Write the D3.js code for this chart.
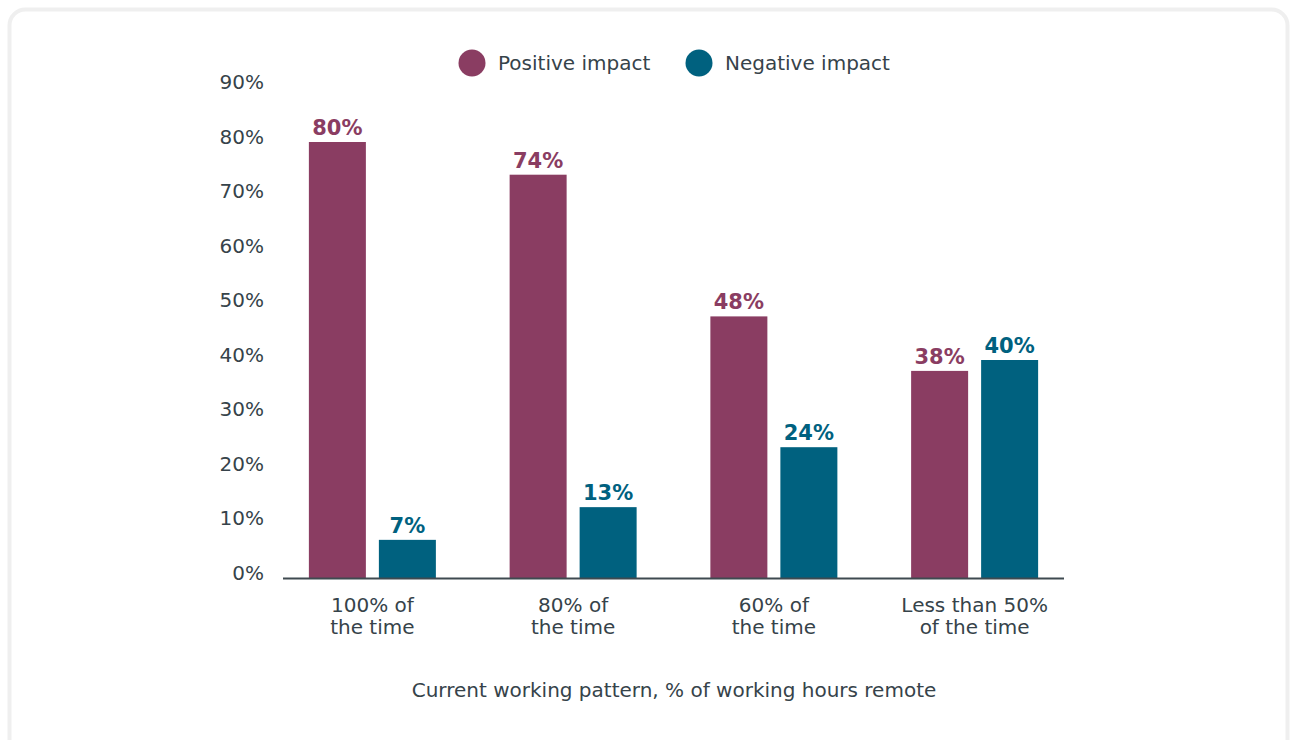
<!DOCTYPE html>
<html>
<head>
<meta charset="utf-8">
<script src="https://cdn.jsdelivr.net/npm/d3@7"></script>
<style>
    body { margin: 0; background: #ffffff; }
    svg { display: block; font-family: "DejaVu Sans", sans-serif; }
    .tick text { fill: #36434a; font-size: 20px; font-family: "DejaVu Sans", sans-serif; }
    .catLabel { fill: #36434a; font-size: 20px; }
    .axisTitle { fill: #36434a; font-size: 20px; }
    .legendText { fill: #36434a; font-size: 20px; }
    .valueLabel { font-size: 21px; font-weight: 700; }
</style>
</head>
<body>
<script>
(function(){

    //chart data
    var categories = [["100% of", "the time"], ["80% of", "the time"], ["60% of", "the time"], ["Less than 50%", "of the time"]];
    var seriesNames = ["Positive impact", "Negative impact"];
    var positiveValues = [80, 74, 48, 38];
    var negativeValues = [7, 13, 24, 40];
    var yTicks = [0, 10, 20, 30, 40, 50, 60, 70, 80, 90];
    var axisTitle = "Current working pattern, % of working hours remote";

    var colors = ["#8a3d62", "#00617f"];

    var width = 1290,
        height = 740;

    var svg = d3.select("body")
        .append("svg")
        .attr("width", width)
        .attr("height", height);

    //card frame
    svg.append("rect")
        .attr("x", 9.5)
        .attr("y", 9.5)
        .attr("width", 1278)
        .attr("height", 760)
        .attr("rx", 16)
        .attr("fill", "#ffffff")
        .attr("stroke", "#efefef")
        .attr("stroke-width", 4);

    //build rows for the grouped bars
    var rows = categories.map(function(c, i){
        return {key: i, label: c, values: [positiveValues[i], negativeValues[i]]};
    });

    var x0 = d3.scaleBand()
        .domain(d3.range(categories.length))
        .range([272, 1075]);

    var x1 = d3.scaleBand()
        .domain([0, 1])
        .range([x0.bandwidth() / 2 - 63.5, x0.bandwidth() / 2 + 63.5])
        .paddingInner(13 / 70);

    var y = d3.scaleLinear()
        .domain([0, 90])
        .range([578, 87.5]);

    //y axis, labels only
    var yAxis = svg.append("g")
        .attr("transform", "translate(264,0)")
        .call(d3.axisLeft(y).tickValues(yTicks).tickSize(0).tickPadding(0)
            .tickFormat(function(d){ return d + "%"; }));
    yAxis.select(".domain").remove();
    yAxis.selectAll(".tick text")
        .attr("transform", "translate(0,-5)");

    //bars
    var groups = svg.selectAll(".group")
        .data(rows)
        .enter()
        .append("g")
        .attr("class", "group")
        .attr("transform", function(d){ return "translate(" + x0(d.key) + ",0)"; });

    groups.selectAll("rect")
        .data(function(d){ return d.values.map(function(v, j){ return {s: j, v: v}; }); })
        .enter()
        .append("rect")
        .attr("x", function(d){ return x1(d.s); })
        .attr("width", x1.bandwidth())
        .attr("y", function(d){ return y(d.v); })
        .attr("height", function(d){ return y(0) - y(d.v); })
        .attr("fill", function(d){ return colors[d.s]; });

    groups.selectAll(".valueLabel")
        .data(function(d){ return d.values.map(function(v, j){ return {s: j, v: v}; }); })
        .enter()
        .append("text")
        .attr("class", "valueLabel")
        .attr("text-anchor", "middle")
        .attr("x", function(d){ return x1(d.s) + x1.bandwidth() / 2; })
        .attr("y", function(d){ return y(d.v) - 7; })
        .attr("fill", function(d){ return colors[d.s]; })
        .text(function(d){ return d.v + "%"; });

    //baseline
    svg.append("line")
        .attr("x1", 283)
        .attr("x2", 1064)
        .attr("y1", y(0) + 0.5)
        .attr("y2", y(0) + 0.5)
        .attr("stroke", "#3f4a50")
        .attr("stroke-width", 2);

    //category labels, one text per line
    groups.selectAll(".catLabel")
        .data(function(d){ return d.label; })
        .enter()
        .append("text")
        .attr("class", "catLabel")
        .attr("text-anchor", "middle")
        .attr("x", x0.bandwidth() / 2)
        .attr("y", function(d, i){ return 612 + i * 22; })
        .text(function(d){ return d; });

    //axis title
    svg.append("text")
        .attr("class", "axisTitle")
        .attr("text-anchor", "middle")
        .attr("x", 674)
        .attr("y", 697)
        .text(axisTitle);

    //legend
    var legendX = [472, 699];
    var legend = svg.selectAll(".legend")
        .data(seriesNames)
        .enter()
        .append("g")
        .attr("class", "legend")
        .attr("transform", function(d, i){ return "translate(" + legendX[i] + ",63)"; });

    legend.append("circle")
        .attr("r", 13.5)
        .attr("fill", function(d, i){ return colors[i]; });

    legend.append("text")
        .attr("class", "legendText")
        .attr("x", 26)
        .attr("y", 7)
        .text(function(d){ return d; });

})();
</script>
</body>
</html>
